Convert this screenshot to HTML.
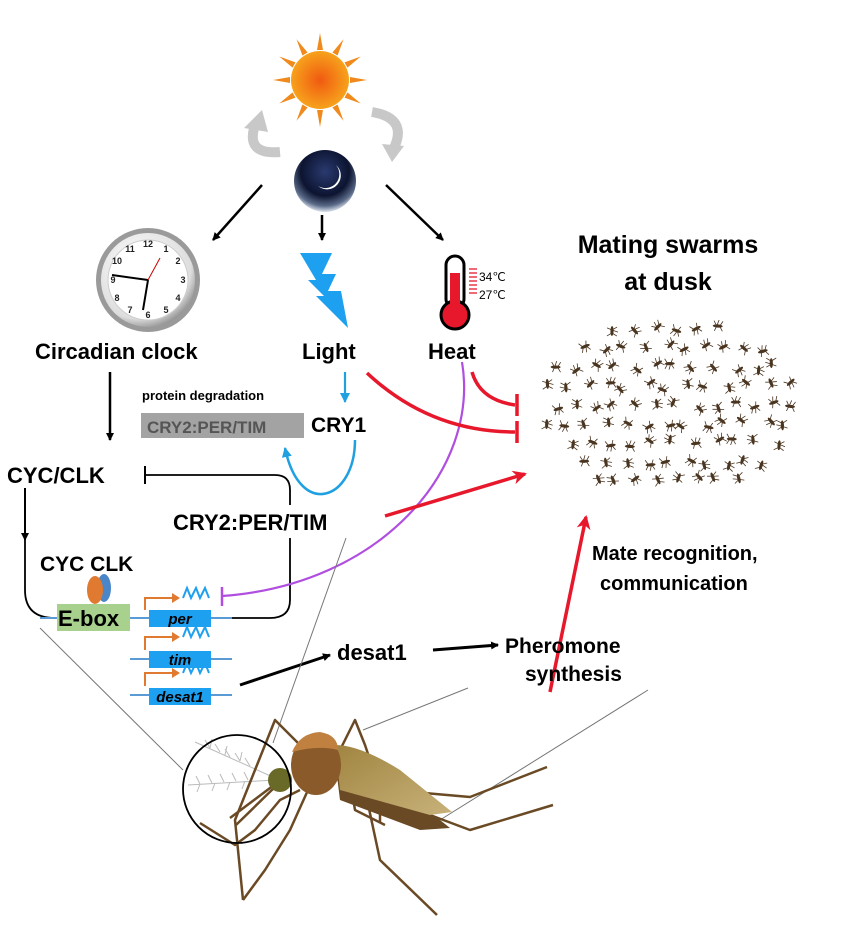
<!DOCTYPE html>
<html><head><meta charset="utf-8"><style>
html,body{margin:0;padding:0;background:#fff}
svg{display:block}
text{font-family:"Liberation Sans",Arial,sans-serif;font-weight:bold}
</style></head><body>
<svg id="s" width="844" height="930" viewBox="0 0 844 930" xmlns="http://www.w3.org/2000/svg">
<defs>
<radialGradient id="sun" cx="0.5" cy="0.5" r="0.5"><stop offset="0" stop-color="#f05a10"/><stop offset="1" stop-color="#f7a21c"/></radialGradient>
<radialGradient id="moon" cx="0.5" cy="0.35" r="0.65"><stop offset="0" stop-color="#2a3a70"/><stop offset="0.6" stop-color="#0c1430"/><stop offset="0.85" stop-color="#5a6a88"/><stop offset="1" stop-color="#dde4ee"/></radialGradient>
<radialGradient id="clk" cx="0.4" cy="0.35" r="0.7"><stop offset="0" stop-color="#fff"/><stop offset="0.8" stop-color="#ddd"/><stop offset="1" stop-color="#888"/></radialGradient>
<linearGradient id="wing" x1="0" y1="0" x2="1" y2="1"><stop offset="0" stop-color="#a08440"/><stop offset="1" stop-color="#c8b27a"/></linearGradient>
<marker id="ab" markerWidth="8" markerHeight="8" refX="7" refY="4" orient="auto" markerUnits="userSpaceOnUse"><path d="M0,0 L8,4 L0,8 z" fill="#000"/></marker>
<marker id="ar" markerWidth="14" markerHeight="14" refX="12" refY="7" orient="auto" markerUnits="userSpaceOnUse"><path d="M0,0 L14,7 L0,14 L4,7 z" fill="#e8182c"/></marker>
<marker id="abl" markerWidth="10" markerHeight="10" refX="9" refY="5" orient="auto" markerUnits="userSpaceOnUse"><path d="M0,0 L10,5 L0,10 z" fill="#1fa0e0"/></marker>
</defs>
<!-- sun -->
<g transform="translate(320,80)" fill="#f08a1c">
<polygon points="-3,-30 0,-47 3,-30"/><polygon points="-3,-30 0,-47 3,-30" transform="rotate(30)"/><polygon points="-3,-30 0,-47 3,-30" transform="rotate(60)"/><polygon points="-3,-30 0,-47 3,-30" transform="rotate(90)"/><polygon points="-3,-30 0,-47 3,-30" transform="rotate(120)"/><polygon points="-3,-30 0,-47 3,-30" transform="rotate(150)"/><polygon points="-3,-30 0,-47 3,-30" transform="rotate(180)"/><polygon points="-3,-30 0,-47 3,-30" transform="rotate(210)"/><polygon points="-3,-30 0,-47 3,-30" transform="rotate(240)"/><polygon points="-3,-30 0,-47 3,-30" transform="rotate(270)"/><polygon points="-3,-30 0,-47 3,-30" transform="rotate(300)"/><polygon points="-3,-30 0,-47 3,-30" transform="rotate(330)"/>
<circle r="29" fill="url(#sun)"/></g>
<!-- grey cycle arrows -->
<path d="M280,152 Q245,155 255,125" stroke="#c8c8c8" stroke-width="10" fill="none"/><polygon points="244,128 262,110 268,132" fill="#c8c8c8"/>
<path d="M372,112 Q408,118 394,148" stroke="#c8c8c8" stroke-width="10" fill="none"/><polygon points="382,144 404,146 392,162" fill="#c8c8c8"/>
<!-- moon -->
<circle cx="325" cy="181" r="31" fill="url(#moon)"/>
<path d="M336,165 A12,12 0 1 1 318,186 A14,14 0 0 0 336,165 z" fill="#fff"/>
<!-- black arrows top -->
<g stroke="#000" stroke-width="2.5" marker-end="url(#ab)"><line x1="262" y1="185" x2="213" y2="240"/><line x1="322" y1="215" x2="322" y2="240"/><line x1="386" y1="185" x2="443" y2="240"/><line x1="110" y1="372" x2="110" y2="440"/></g>
<!-- clock -->
<circle cx="148" cy="280" r="52" fill="#9a9a9a"/><circle cx="148" cy="280" r="47" fill="url(#clk)"/><circle cx="148" cy="280" r="40" fill="#fff" stroke="#ccc"/>
<g font-size="9" text-anchor="middle" fill="#222" style="font-weight:normal"><text x="148" y="247">12</text><text x="166" y="252">1</text><text x="178" y="264">2</text><text x="183" y="283">3</text><text x="178" y="301">4</text><text x="166" y="313">5</text><text x="148" y="318">6</text><text x="130" y="313">7</text><text x="117" y="301">8</text><text x="113" y="283">9</text><text x="117" y="264">10</text><text x="130" y="252">11</text></g>
<line x1="148" y1="280" x2="112" y2="275" stroke="#000" stroke-width="2"/><line x1="148" y1="280" x2="143" y2="310" stroke="#000" stroke-width="2"/><line x1="148" y1="280" x2="160" y2="258" stroke="#c00" stroke-width="1"/>
<!-- lightning -->
<polygon points="300,253 332,253 322,274 336,274 328,291 341,291 348,328 316,296 324,296 308,280 316,280" fill="#1ea0f0"/>
<!-- thermometer -->
<rect x="446" y="256" width="18" height="52" rx="9" fill="#fff" stroke="#000" stroke-width="3"/>
<circle cx="455" cy="315" r="14" fill="#e8182c" stroke="#000" stroke-width="3"/>
<rect x="450" y="273" width="10" height="40" fill="#e8182c"/>
<g stroke="#e8182c" stroke-width="1.3"><line x1="469" y1="269" x2="477" y2="269"/><line x1="469" y1="273" x2="477" y2="273"/><line x1="469" y1="277" x2="477" y2="277"/><line x1="469" y1="281" x2="477" y2="281"/><line x1="469" y1="285" x2="477" y2="285"/><line x1="469" y1="289" x2="477" y2="289"/><line x1="469" y1="293" x2="477" y2="293"/></g>
<text x="479" y="281" font-size="12" style="font-weight:normal">34℃</text><text x="479" y="299" font-size="12" style="font-weight:normal">27℃</text>
<!-- titles -->
<text x="668" y="253" font-size="25" text-anchor="middle">Mating swarms</text>
<text x="668" y="290" font-size="25" text-anchor="middle">at dusk</text>
<text x="35" y="359" font-size="22">Circadian clock</text>
<text x="302" y="359" font-size="22">Light</text>
<text x="428" y="359" font-size="22">Heat</text>
<text x="142" y="400" font-size="13">protein degradation</text>
<rect x="141" y="413" width="163" height="25" fill="#a3a3a3"/>
<text x="147" y="433" font-size="17" fill="#555">CRY2:PER/TIM</text>
<text x="311" y="432" font-size="21">CRY1</text>
<text x="7" y="483" font-size="22">CYC/CLK</text>
<text x="173" y="530" font-size="22">CRY2:PER/TIM</text>
<text x="40" y="571" font-size="21">CYC CLK</text>
<!-- blue arrows -->
<line x1="345" y1="372" x2="345" y2="402" stroke="#1fa0e0" stroke-width="2.2" marker-end="url(#abl)"/>
<path d="M355,440 C355,500 300,520 285,448" stroke="#1fa0e0" stroke-width="2.5" fill="none" marker-end="url(#abl)"/>
<!-- black inhibition loop -->
<line x1="145" y1="466" x2="145" y2="484" stroke="#000" stroke-width="2"/>
<path d="M145,475 L275,475 Q290,475 290,490 L290,505" stroke="#000" stroke-width="1.8" fill="none"/>
<path d="M290,538 L290,600 Q290,618 270,618 L232,618" stroke="#000" stroke-width="1.8" fill="none"/>
<path d="M25,488 L25,540" stroke="#000" stroke-width="2" marker-end="url(#ab)"/>
<path d="M25,540 L25,590 Q25,618 55,618" stroke="#000" stroke-width="1.8" fill="none"/>
<!-- gene rows -->
<g stroke="#5b9bd5" stroke-width="2"><line x1="40" y1="618" x2="232" y2="618"/><line x1="130" y1="659" x2="232" y2="659"/><line x1="130" y1="695" x2="232" y2="695"/></g>
<rect x="57" y="604" width="73" height="27" fill="#a9d18e"/>
<text x="58" y="626" font-size="22">E-box</text>
<ellipse cx="104" cy="588" rx="7" ry="14" fill="#4a86c8"/>
<ellipse cx="95" cy="590" rx="8" ry="14" fill="#e07a30"/>
<g font-size="15" text-anchor="middle">
<rect x="149" y="610" width="62" height="17" fill="#1ea0f0"/><text x="180" y="624" font-style="italic">per</text>
<rect x="149" y="651" width="62" height="17" fill="#1ea0f0"/><text x="180" y="665" font-style="italic">tim</text>
<rect x="149" y="688" width="62" height="17" fill="#1ea0f0"/><text x="180" y="702" font-style="italic">desat1</text></g>
<g stroke="#e07a30" stroke-width="2" fill="none"><path d="M145,610 L145,598 L175,598"/><path d="M145,650 L145,637 L175,637"/><path d="M145,686 L145,673 L175,673"/></g>
<g fill="#e07a30"><polygon points="172,593 180,598 172,603"/><polygon points="172,632 180,637 172,642"/><polygon points="172,668 180,673 172,678"/></g>
<g stroke="#1ea0f0" stroke-width="2" fill="none"><path d="M183,598 L187,588 L191,598 L196,588 L200,598 L205,588 L209,598"/><path d="M183,637 L187,627 L191,637 L196,627 L200,637 L205,627 L209,637"/><path d="M183,673 L187,663 L191,673 L196,663 L200,673 L205,663 L209,673"/></g>
<!-- purple -->
<path d="M462,362 C480,470 380,585 222,596" stroke="#b04ee0" stroke-width="2.2" fill="none"/>
<line x1="222" y1="587" x2="222" y2="606" stroke="#b04ee0" stroke-width="2.5"/>
<!-- red -->
<g stroke="#e8182c" stroke-width="3.5" fill="none">
<path d="M367,373 Q430,432 515,432"/><line x1="517" y1="421" x2="517" y2="443"/>
<path d="M472,372 Q480,400 515,405"/><line x1="517" y1="394" x2="517" y2="416"/>
<line x1="385" y1="516" x2="525" y2="474" marker-end="url(#ar)"/>
<line x1="550" y1="692" x2="586" y2="517" marker-end="url(#ar)"/>
</g>
<text x="592" y="560" font-size="20">Mate recognition,</text>
<text x="600" y="590" font-size="20">communication</text>
<text x="337" y="660" font-size="22">desat1</text>
<line x1="240" y1="685" x2="330" y2="655" stroke="#000" stroke-width="3" marker-end="url(#ab)"/>
<line x1="433" y1="650" x2="498" y2="645" stroke="#000" stroke-width="3" marker-end="url(#ab)"/>
<text x="505" y="653" font-size="21">Pheromone</text>
<text x="525" y="681" font-size="21">synthesis</text>
<!-- callout lines -->
<g stroke="#777" stroke-width="1" fill="none"><line x1="40" y1="628" x2="183" y2="770"/><line x1="346" y1="538" x2="273" y2="743"/><line x1="468" y1="688" x2="363" y2="730"/><line x1="648" y1="690" x2="440" y2="820"/></g>
<!-- mosquito -->
<g>
<!-- antennae -->
<g stroke="#bbb" stroke-width="1" fill="none">
<path d="M275,778 L195,742"/><path d="M275,780 L188,785"/>
<path d="M210,748 l-5,-8 M220,752 l-5,-8 M230,757 l-5,-8 M240,761 l-5,-8 M250,766 l-5,-8 M210,748 l2,-9 M225,755 l2,-9 M240,761 l2,-9"/>
<path d="M200,784 l-4,-8 M212,783 l-4,-8 M224,782 l-4,-8 M236,781 l-4,-8 M248,780 l-4,-8 M200,784 l-3,8 M215,783 l-3,8 M230,782 l-3,8 M245,781 l-3,8"/>
</g>
<g stroke="#6a4a25" stroke-width="2.5" fill="none" stroke-linejoin="round">
<path d="M300,745 L275,720 L255,770 L235,820 L243,900"/>
<path d="M300,790 L280,800 L255,830 L235,845 L200,823"/>
<path d="M308,790 L290,830 L265,870 L243,900"/>
<path d="M330,770 L355,720 L365,745 L380,790 L380,823"/>
<path d="M360,760 L365,790 L380,860 L437,915"/>
<path d="M350,780 L355,810 L385,825"/>
<path d="M390,790 L470,797 L547,767"/>
<path d="M430,815 L470,830 L553,805"/>
<path d="M278,782 L230,818"/><path d="M278,784 L236,825"/>
</g>
<path d="M335,760 L440,820 L450,828 L420,830 L340,800 z" fill="#6a4a25"/>
<path d="M335,745 Q360,745 400,770 L452,812 L430,815 L340,790 z" fill="url(#wing)"/>
<ellipse cx="316" cy="765" rx="25" ry="30" fill="#8a5a2a"/>
<path d="M292,752 Q300,733 320,732 Q338,735 338,750 Q318,745 292,752z" fill="#c08040"/>
<circle cx="280" cy="780" r="12" fill="#6a6a28"/>
</g>
<circle cx="237" cy="789" r="54" fill="none" stroke="#000" stroke-width="1.8"/>
<g id="sw" fill="#4a3520"></g>
</svg>
<script>
var g=document.getElementById('sw'),seed=7;function r(){seed=(seed*16807)%2147483647;return seed/2147483647;}
var s='';
for(var row=0;row<9;row++){for(var c=0;c<13;c++){var x=548+c*20+r()*12-(row%2)*8,y=325+row*19+r()*8;
var cx=668,cy=405;if(((x-cx)*(x-cx))/(130*130)+((y-cy)*(y-cy))/(88*88)>1)continue;
s+='<g transform="translate('+x.toFixed(1)+','+y.toFixed(1)+') rotate('+(r()*360|0)+')"><ellipse rx="5" ry="1.6"/><path d="M-2,0 L-5,5 M1,0 L-1,6 M1,0 L4,5 M-2,0 L-5,-5 M1,0 L3,-5" stroke="#4a3520" stroke-width="0.8"/></g>';}}
g.innerHTML=s;
</script>
</body></html>
